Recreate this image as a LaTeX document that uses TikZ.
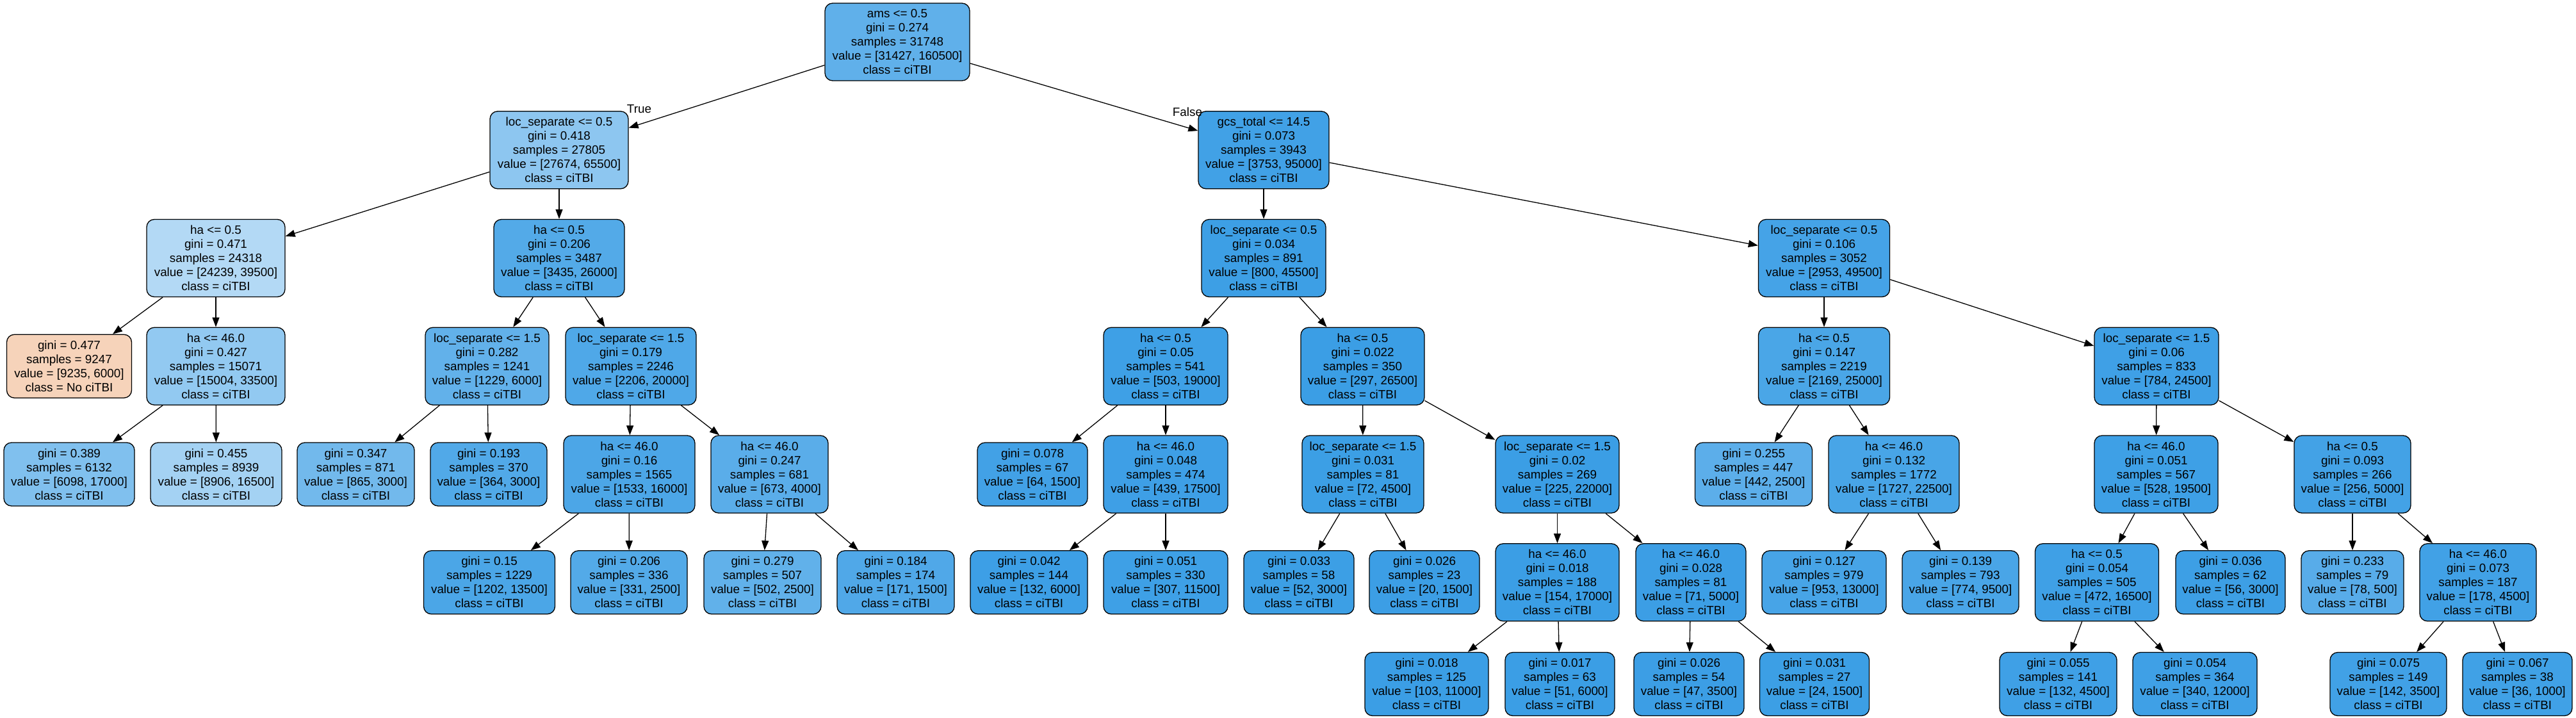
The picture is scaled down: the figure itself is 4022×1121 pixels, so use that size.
\documentclass[tikz,border=0pt]{standalone}
\usepackage{fontspec}
\newfontfamily\lsans{Liberation Sans}
\usetikzlibrary{arrows.meta}
\definecolor{skb}{RGB}{57,157,229}
\definecolor{sko}{RGB}{229,129,57}
\newcommand{\intlab}[5]{#1\\gini = #2\\samples = #3\\value = [#4, #5]\\class = ciTBI}
\newcommand{\leaflab}[4]{gini = #1\\samples = #2\\value = [#3, #4]\\class = ciTBI}
\begin{document}
\begin{tikzpicture}[x=1pt,y=-1pt,
  tn/.style={draw=black, line width=1.3pt, rounded corners=12pt, inner sep=0pt,
    align=center, minimum height=121pt, font=\lsans\fontsize{18.85}{22}\selectfont},
  lf/.style={tn, minimum height=99pt},
  ed/.style={-{Triangle[length=15pt,width=11pt]}, line width=1.3pt},
  elab/.style={inner sep=0pt, font=\lsans\fontsize{18.85}{22}\selectfont}]
\useasboundingbox (0,0) rectangle (4022,1121);
\def\Ya{65.5}\def\Yb{234.25}\def\Yc{403}\def\Yd{571.75}\def\Ye{740.5}\def\Yf{909.25}\def\Yg{1068}
% level 0
\node[tn, minimum width=226pt, fill=skb!80.4!white] (root) at (1401,\Ya) {\intlab{ams <= 0.5}{0.274}{31748}{31427}{160500}};
% level 1
\node[tn, minimum width=216pt, fill=skb!57.7!white] (L) at (873,\Yb) {\intlab{loc\_separate <= 0.5}{0.418}{27805}{27674}{65500}};
\node[tn, minimum width=204pt, fill=skb!96.0!white] (R) at (1973,\Yb) {\intlab{gcs\_total <= 14.5}{0.073}{3943}{3753}{95000}};
% level 2
\node[tn, minimum width=216pt, fill=skb!38.6!white] (LL) at (337,\Yc) {\intlab{ha <= 0.5}{0.471}{24318}{24239}{39500}};
\node[tn, minimum width=204pt, fill=skb!86.8!white] (LR) at (873,\Yc) {\intlab{ha <= 0.5}{0.206}{3487}{3435}{26000}};
\node[tn, minimum width=194pt, fill=skb!98.2!white] (RL) at (1973,\Yc) {\intlab{loc\_separate <= 0.5}{0.034}{891}{800}{45500}};
\node[tn, minimum width=205pt, fill=skb!94.0!white] (RR) at (2848,\Yc) {\intlab{loc\_separate <= 0.5}{0.106}{3052}{2953}{49500}};
% level 3
\node[lf, minimum width=195pt, fill=sko!35.0!white] (LLL) at (108,\Yd) {gini = 0.477\\samples = 9247\\value = [9235, 6000]\\class = No ciTBI};
\node[tn, minimum width=216pt, fill=skb!55.2!white] (LLR) at (337,\Yd) {\intlab{ha <= 46.0}{0.427}{15071}{15004}{33500}};
\node[tn, minimum width=193pt, fill=skb!79.5!white] (LRL) at (760.5,\Yd) {\intlab{loc\_separate <= 1.5}{0.282}{1241}{1229}{6000}};
\node[tn, minimum width=204pt, fill=skb!89.0!white] (LRR) at (985,\Yd) {\intlab{loc\_separate <= 1.5}{0.179}{2246}{2206}{20000}};
\node[tn, minimum width=194pt, fill=skb!97.4!white] (RLL) at (1820,\Yd) {\intlab{ha <= 0.5}{0.05}{541}{503}{19000}};
\node[tn, minimum width=193pt, fill=skb!98.9!white] (RLR) at (2127.5,\Yd) {\intlab{ha <= 0.5}{0.022}{350}{297}{26500}};
\node[tn, minimum width=205pt, fill=skb!91.3!white] (RRL) at (2848,\Yd) {\intlab{ha <= 0.5}{0.147}{2219}{2169}{25000}};
\node[tn, minimum width=194pt, fill=skb!96.8!white] (RRR) at (3367,\Yd) {\intlab{loc\_separate <= 1.5}{0.06}{833}{784}{24500}};
% level 4
\node[lf, minimum width=204pt, fill=skb!64.1!white] (LLRL) at (108,\Ye) {\leaflab{0.389}{6132}{6098}{17000}};
\node[lf, minimum width=205pt, fill=skb!46.0!white] (LLRR) at (337.5,\Ye) {\leaflab{0.455}{8939}{8906}{16500}};
\node[lf, minimum width=183pt, fill=skb!71.2!white] (LRLL) at (555.5,\Ye) {\leaflab{0.347}{871}{865}{3000}};
\node[lf, minimum width=182pt, fill=skb!87.9!white] (LRLR) at (763,\Ye) {\leaflab{0.193}{370}{364}{3000}};
\node[tn, minimum width=205pt, fill=skb!90.4!white] (LRRL) at (982.5,\Ye) {\intlab{ha <= 46.0}{0.16}{1565}{1533}{16000}};
\node[tn, minimum width=183pt, fill=skb!83.2!white] (LRRR) at (1201.5,\Ye) {\intlab{ha <= 46.0}{0.247}{681}{673}{4000}};
\node[lf, minimum width=172pt, fill=skb!95.7!white] (RLLL) at (1612,\Ye) {\leaflab{0.078}{67}{64}{1500}};
\node[tn, minimum width=194pt, fill=skb!97.5!white] (RLLR) at (1820,\Ye) {\intlab{ha <= 46.0}{0.048}{474}{439}{17500}};
\node[tn, minimum width=190pt, fill=skb!98.4!white] (RLRL) at (2128,\Ye) {\intlab{loc\_separate <= 1.5}{0.031}{81}{72}{4500}};
\node[tn, minimum width=193pt, fill=skb!99.0!white] (RLRR) at (2431.5,\Ye) {\intlab{loc\_separate <= 1.5}{0.02}{269}{225}{22000}};
\node[lf, minimum width=183pt, fill=skb!82.3!white] (RRLL) at (2738,\Ye) {\leaflab{0.255}{447}{442}{2500}};
\node[tn, minimum width=204pt, fill=skb!92.3!white] (RRLR) at (2957,\Ye) {\intlab{ha <= 46.0}{0.132}{1772}{1727}{22500}};
\node[tn, minimum width=193pt, fill=skb!97.3!white] (RRRL) at (3366.5,\Ye) {\intlab{ha <= 46.0}{0.051}{567}{528}{19500}};
\node[tn, minimum width=182pt, fill=skb!94.9!white] (RRRR) at (3673,\Ye) {\intlab{ha <= 0.5}{0.093}{266}{256}{5000}};
% level 5
\node[lf, minimum width=205pt, fill=skb!91.1!white] (LRRLL) at (764,\Yf) {\leaflab{0.15}{1229}{1202}{13500}};
\node[lf, minimum width=182pt, fill=skb!86.8!white] (LRRLR) at (982,\Yf) {\leaflab{0.206}{336}{331}{2500}};
\node[lf, minimum width=183pt, fill=skb!79.9!white] (LRRRL) at (1190.5,\Yf) {\leaflab{0.279}{507}{502}{2500}};
\node[lf, minimum width=183pt, fill=skb!88.6!white] (LRRRR) at (1398.5,\Yf) {\leaflab{0.184}{174}{171}{1500}};
\node[lf, minimum width=183pt, fill=skb!97.8!white] (RLLRL) at (1606.5,\Yf) {\leaflab{0.042}{144}{132}{6000}};
\node[lf, minimum width=194pt, fill=skb!97.3!white] (RLLRR) at (1820,\Yf) {\leaflab{0.051}{330}{307}{11500}};
\node[lf, minimum width=172pt, fill=skb!98.3!white] (RLRLL) at (2028,\Yf) {\leaflab{0.033}{58}{52}{3000}};
\node[lf, minimum width=172pt, fill=skb!98.7!white] (RLRLR) at (2224,\Yf) {\leaflab{0.026}{23}{20}{1500}};
\node[tn, minimum width=193pt, fill=skb!99.1!white] (RLRRL) at (2431.5,\Yf) {\intlab{ha <= 46.0}{0.018}{188}{154}{17000}};
\node[tn, minimum width=172pt, fill=skb!98.6!white] (RLRRR) at (2640,\Yf) {\intlab{ha <= 46.0}{0.028}{81}{71}{5000}};
\node[lf, minimum width=194pt, fill=skb!92.7!white] (RRLRL) at (2848,\Yf) {\leaflab{0.127}{979}{953}{13000}};
\node[lf, minimum width=182pt, fill=skb!91.9!white] (RRLRR) at (3061,\Yf) {\leaflab{0.139}{793}{774}{9500}};
\node[tn, minimum width=193pt, fill=skb!97.1!white] (RRRLL) at (3274,\Yf) {\intlab{ha <= 0.5}{0.054}{505}{472}{16500}};
\node[lf, minimum width=171pt, fill=skb!98.1!white] (RRRLR) at (3482.5,\Yf) {\leaflab{0.036}{62}{56}{3000}};
\node[lf, minimum width=160pt, fill=skb!84.4!white] (RRRRL) at (3673,\Yf) {\leaflab{0.233}{79}{78}{500}};
\node[tn, minimum width=182pt, fill=skb!96.0!white] (RRRRR) at (3869,\Yf) {\intlab{ha <= 46.0}{0.073}{187}{178}{4500}};
% level 6
\node[lf, minimum width=193pt, fill=skb!99.1!white] (RLRRLL) at (2227.5,\Yg) {\leaflab{0.018}{125}{103}{11000}};
\node[lf, minimum width=171pt, fill=skb!99.2!white] (RLRRLR) at (2435.5,\Yg) {\leaflab{0.017}{63}{51}{6000}};
\node[lf, minimum width=172pt, fill=skb!98.7!white] (RLRRRL) at (2637,\Yg) {\leaflab{0.026}{54}{47}{3500}};
\node[lf, minimum width=171pt, fill=skb!98.4!white] (RLRRRR) at (2833,\Yg) {\leaflab{0.031}{27}{24}{1500}};
\node[lf, minimum width=183pt, fill=skb!97.1!white] (RRRLLL) at (3213.5,\Yg) {\leaflab{0.055}{141}{132}{4500}};
\node[lf, minimum width=194pt, fill=skb!97.2!white] (RRRLLR) at (3427,\Yg) {\leaflab{0.054}{364}{340}{12000}};
\node[lf, minimum width=182pt, fill=skb!95.9!white] (RRRRRL) at (3729,\Yg) {\leaflab{0.075}{149}{142}{3500}};
\node[lf, minimum width=171pt, fill=skb!96.4!white] (RRRRRR) at (3930.5,\Yg) {\leaflab{0.067}{38}{36}{1000}};
% edges
\foreach \a/\b in {root/L, root/R, L/LL, L/LR, R/RL, R/RR,
  LL/LLL, LL/LLR, LR/LRL, LR/LRR, RL/RLL, RL/RLR, RR/RRL, RR/RRR,
  LLR/LLRL, LLR/LLRR, LRL/LRLL, LRL/LRLR, LRR/LRRL, LRR/LRRR,
  RLL/RLLL, RLL/RLLR, RLR/RLRL, RLR/RLRR, RRL/RRLL, RRL/RRLR, RRR/RRRL, RRR/RRRR,
  LRRL/LRRLL, LRRL/LRRLR, LRRR/LRRRL, LRRR/LRRRR, RLLR/RLLRL, RLLR/RLLRR,
  RLRL/RLRLL, RLRL/RLRLR, RLRR/RLRRL, RLRR/RLRRR, RRLR/RRLRL, RRLR/RRLRR,
  RRRL/RRRLL, RRRL/RRRLR, RRRR/RRRRL, RRRR/RRRRR,
  RLRRL/RLRRLL, RLRRL/RLRRLR, RLRRR/RLRRRL, RLRRR/RLRRRR,
  RRRLL/RRRLLL, RRRLL/RRRLLR, RRRRR/RRRRRL, RRRRR/RRRRRR}
  \draw[ed] (\a) -- (\b);
\node[elab] (lblT) at (998,170) {True};
\node[elab] (lblF) at (1854,175) {False};
\end{tikzpicture}
\end{document}
